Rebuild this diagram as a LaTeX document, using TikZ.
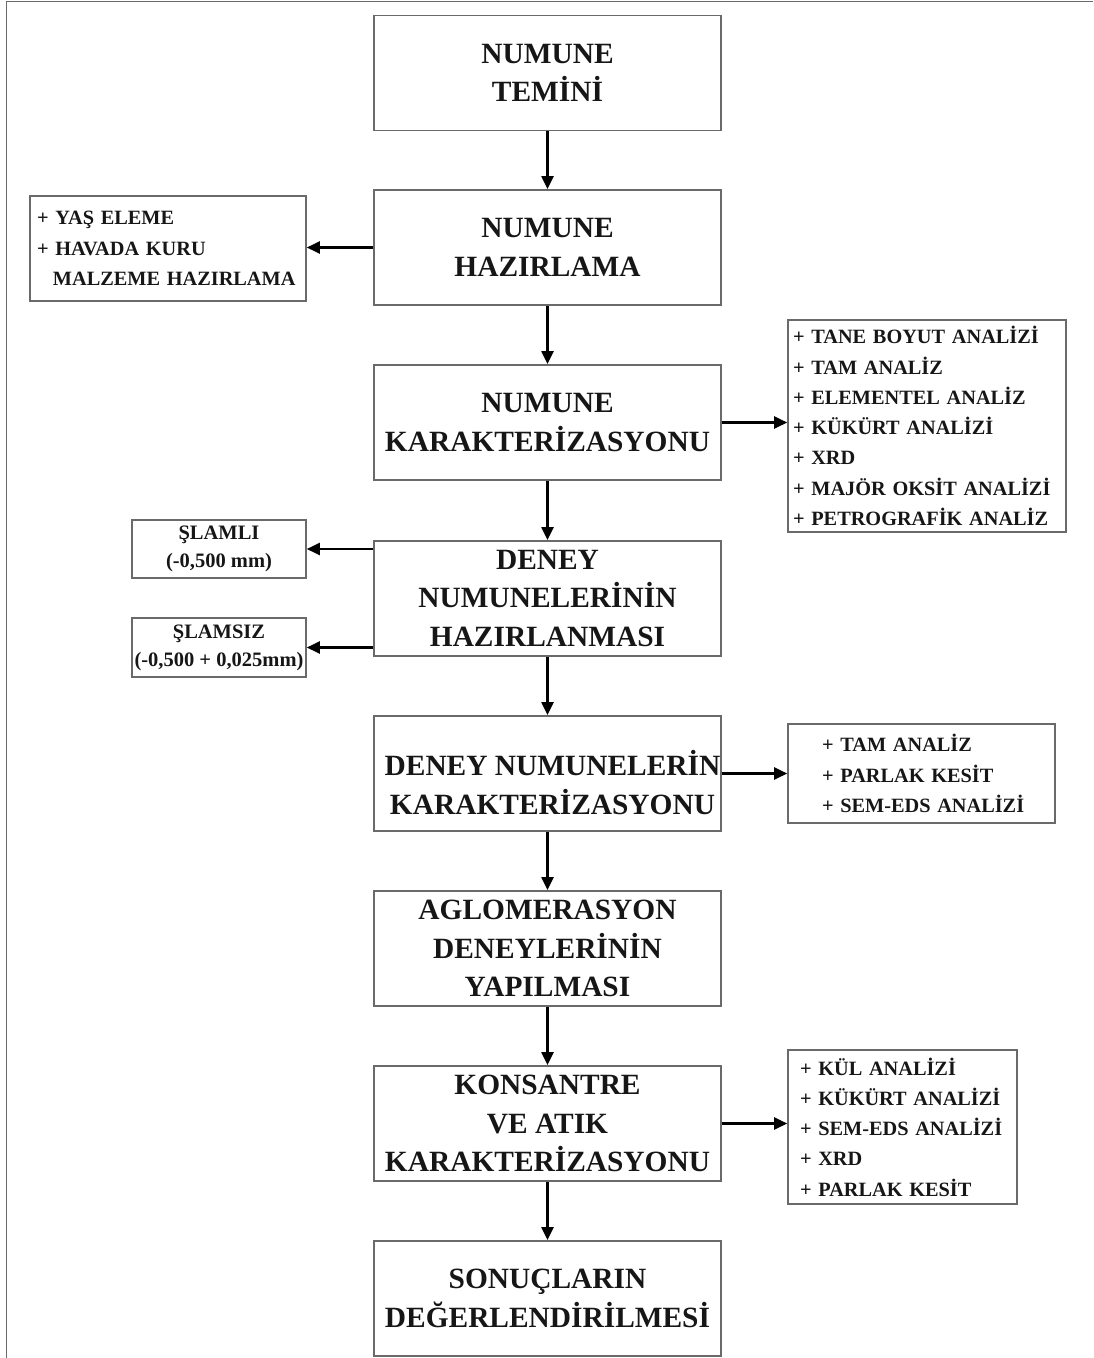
\documentclass[tikz,border=0pt]{standalone}
\usepackage{fontspec}
\setmainfont{Liberation Serif}
\usetikzlibrary{arrows.meta}
\definecolor{boxgray}{HTML}{6A6A6A}
\definecolor{ink}{HTML}{161616}
\tikzset{
  mainfont/.style={font=\bfseries\fontsize{29.4}{38.5}\selectfont},
  mainbox/.style={draw=boxgray, line width=1.8pt, minimum width=347pt, minimum height=115pt,
    inner sep=0pt, align=center, text=ink, mainfont},
  sidebox/.style={draw=boxgray, line width=1.6pt, inner ysep=0pt, align=left, text=ink,
    font=\bfseries\fontsize{20.3}{30.3}\selectfont},
  smallbox/.style={draw=boxgray, line width=1.6pt, minimum width=174pt, inner sep=0pt,
    align=center, text=ink, font=\bfseries\fontsize{20.5}{28}\selectfont},
  arr/.style={draw=black, line width=2.2pt, -{Triangle[length=13pt,width=12pt]}},
  frameline/.style={draw=boxgray, line width=1.5pt}
}
\begin{document}
\begin{tikzpicture}[x=1pt,y=-1pt]
\useasboundingbox (0,0) rectangle (1093,1358);
% page frame (left and top edges)
\draw[frameline] (6.5,1358) -- (6.5,1.5) -- (1093,1.5);

% main flow
\node[mainbox] (b1) at (547.5,73) {NUMUNE\\TEMİNİ};
\node[mainbox] (b2) at (547.5,247.5) {NUMUNE\\HAZIRLAMA};
\node[mainbox] (b3) at (547.5,422.5) {NUMUNE\\KARAKTERİZASYONU};
\node[mainbox] (b4) at (547.5,598.5) {DENEY\\NUMUNELERİNİN\\HAZIRLANMASI};
\node[mainbox, label={[name=b5text, align=center, text=ink, mainfont, xshift=5pt, yshift=-9pt]center:{DENEY NUMUNELERİN\\KARAKTERİZASYONU}}] (b5) at (547.5,773.5) {};
\node[mainbox] (b6) at (547.5,948.5) {AGLOMERASYON\\DENEYLERİNİN\\YAPILMASI};
\node[mainbox] (b7) at (547.5,1123.5) {KONSANTRE\\VE ATIK\\KARAKTERİZASYONU};
\node[mainbox] (b8) at (547.5,1298.5) {SONUÇLARIN\\DEĞERLENDİRİLMESİ};

% side boxes
\node[sidebox, text width=262pt, inner xsep=7pt, minimum height=105pt] (l1) at (168,248.5)
  {\mbox{+ YAŞ ELEME}\\\mbox{+ HAVADA KURU}\\\hspace*{16pt}\mbox{MALZEME HAZIRLAMA}};
\node[sidebox, text width=268pt, inner xsep=5pt, minimum height=212pt] (r1) at (927,426)
  {\mbox{+ TANE BOYUT ANALİZİ}\\\mbox{+ TAM ANALİZ}\\\mbox{+ ELEMENTEL ANALİZ}\\\mbox{+ KÜKÜRT ANALİZİ}\\\mbox{+ XRD}\\\mbox{+ MAJÖR OKSİT ANALİZİ}\\\mbox{+ PETROGRAFİK ANALİZ}};
\node[smallbox, minimum height=58pt] (s1) at (219,549) {ŞLAMLI\\(-0,500 mm)};
\node[smallbox, minimum height=59pt] (s2) at (219,647.5) {ŞLAMSIZ\\(-0,500 + 0,025mm)};
\node[sidebox, text width=199pt, inner xsep=34pt, minimum height=99pt] (r2) at (921.5,773.5)
  {\mbox{+ TAM ANALİZ}\\\mbox{+ PARLAK KESİT}\\\mbox{+ SEM-EDS ANALİZİ}};
\node[sidebox, text width=205pt, inner xsep=12pt, minimum height=154pt] (r3) at (902.5,1127)
  {\mbox{+ KÜL ANALİZİ}\\\mbox{+ KÜKÜRT ANALİZİ}\\\mbox{+ SEM-EDS ANALİZİ}\\\mbox{+ XRD}\\\mbox{+ PARLAK KESİT}};

% vertical flow arrows
\draw[arr] (b1.south) -- (b2.north);
\draw[arr] (b2.south) -- (b3.north);
\draw[arr] (b3.south) -- (b4.north);
\draw[arr] (b4.south) -- (b5.north);
\draw[arr] (b5.south) -- (b6.north);
\draw[arr] (b6.south) -- (b7.north);
\draw[arr] (b7.south) -- (b8.north);

% branch arrows
\draw[arr] (b2.west) -- (b2.west -| l1.east);
\draw[arr] (b3.east) -- (b3.east -| r1.west);
\draw[arr] (s1.east -| b4.west) -- (s1.east);
\draw[arr] (s2.east -| b4.west) -- (s2.east);
\draw[arr] (b5.east) -- (b5.east -| r2.west);
\draw[arr] (b7.east) -- (b7.east -| r3.west);
\end{tikzpicture}
\end{document}
